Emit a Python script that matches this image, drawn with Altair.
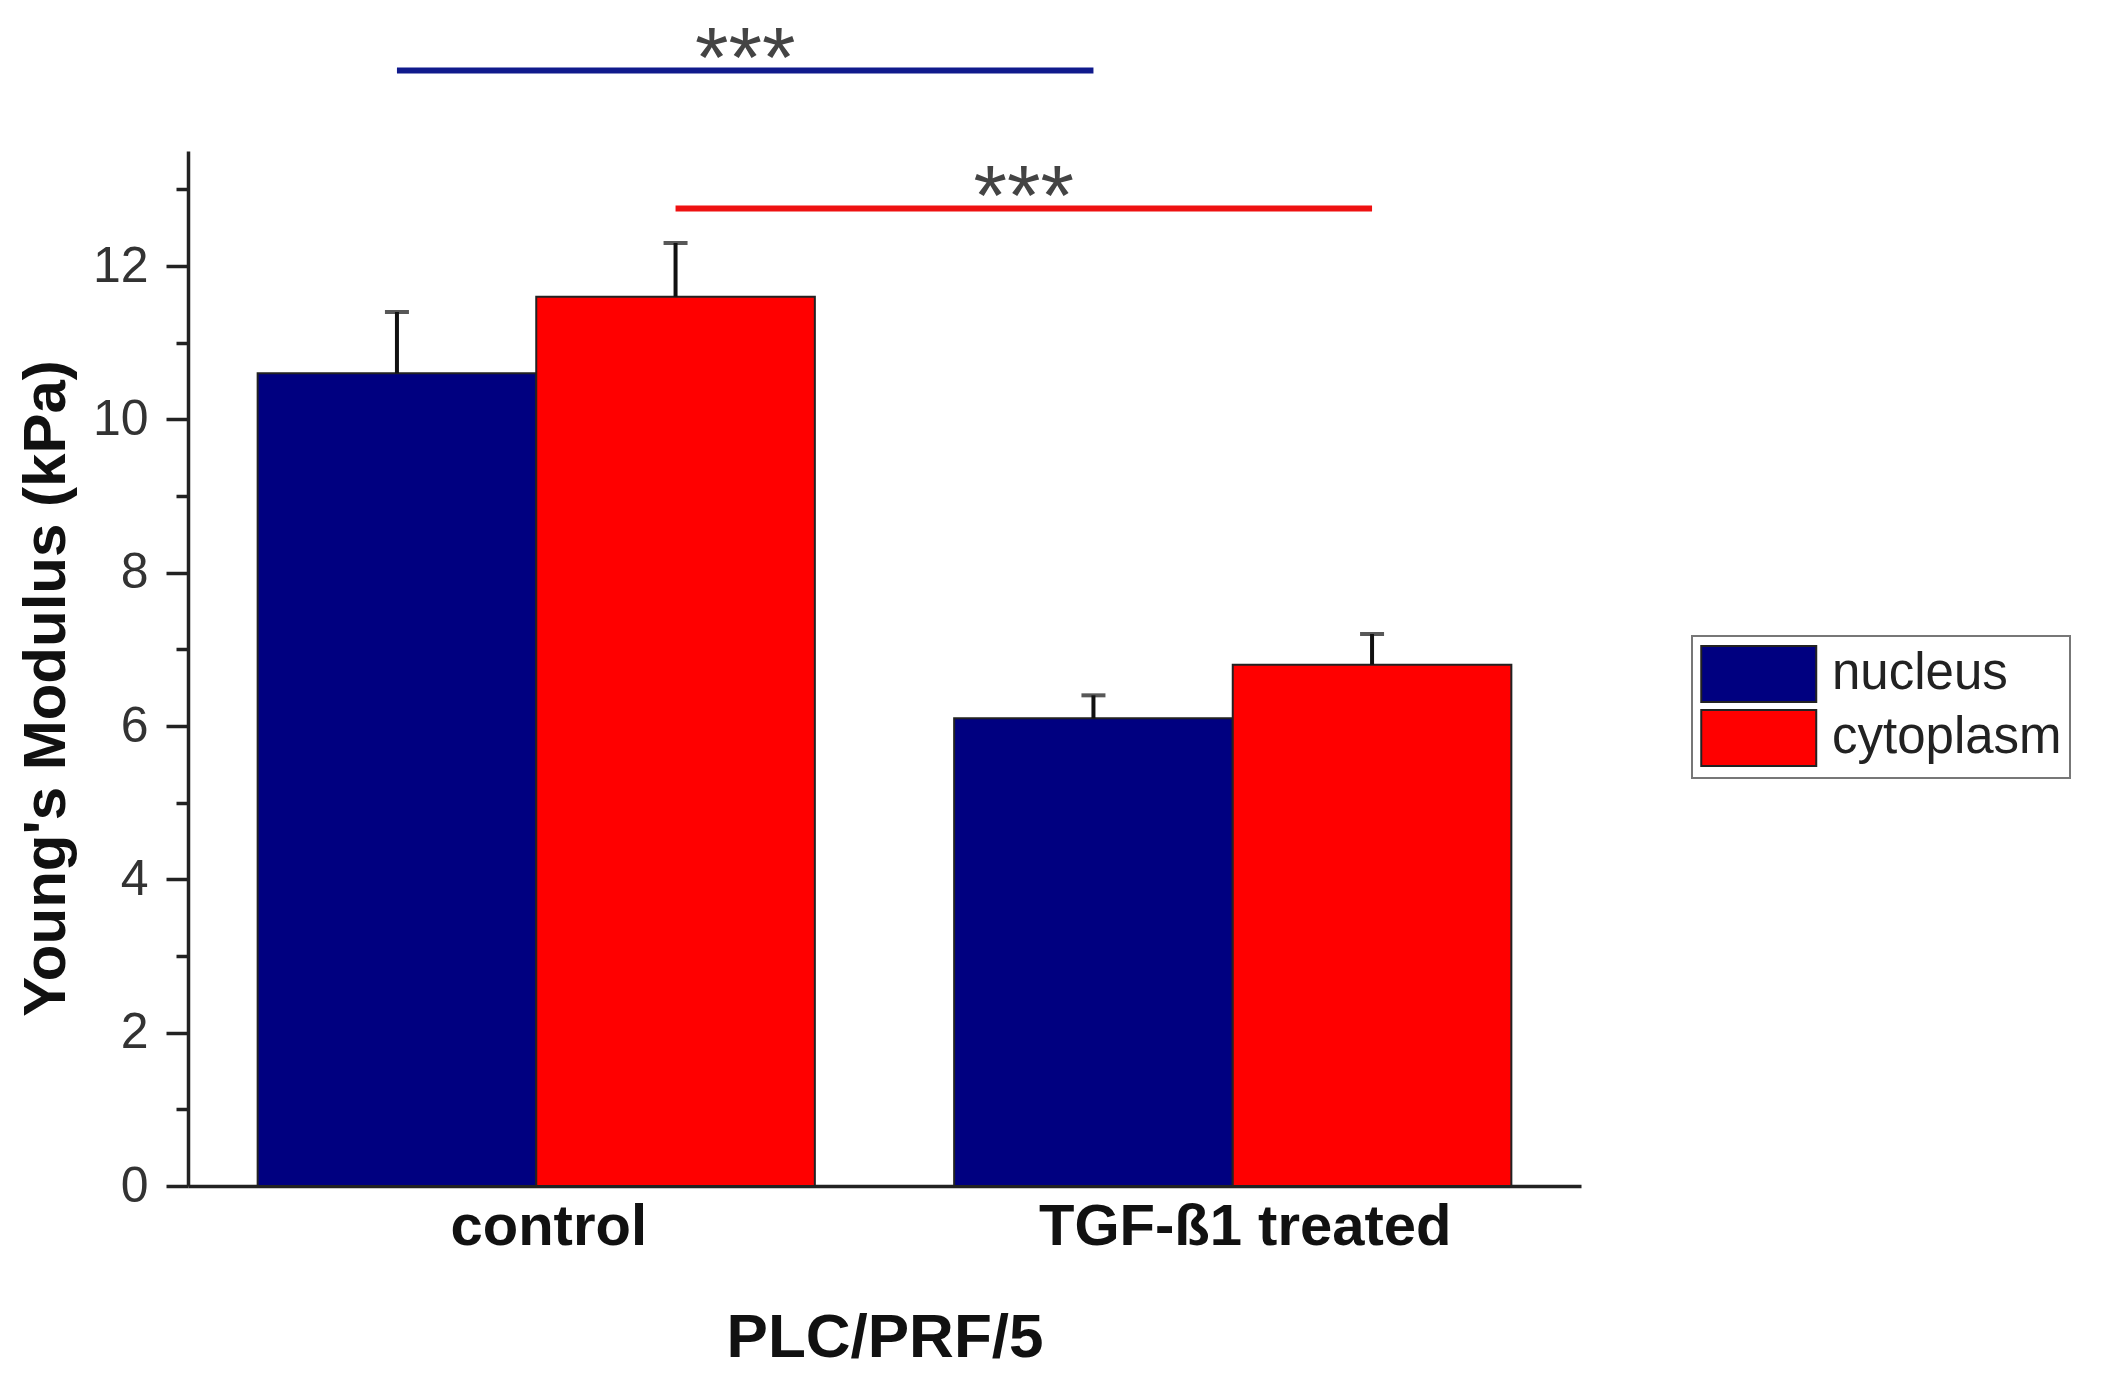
import altair as alt
import pandas as pd
import json

# ---- data ----
groups = ["control", "TGF-ß1 treated"]
series = ["nucleus", "cytoplasm"]
nucleus_mean = [10.6, 6.1]
nucleus_err = [0.8, 0.3]
cytoplasm_mean = [11.6, 6.8]
cytoplasm_err = [0.7, 0.4]

sig_series = ["nucleus", "cytoplasm"]
sig_level = [14.55, 12.75]
sig_label = ["***", "***"]

bar_colors = ["#000080", "#ff0000"]
sig_colors = ["#101a8c", "#ee1111"]

y_ticks = list(range(0, 14))

BAR_W = 0.4  # fraction of a group step taken by one bar
FONT = "Liberation Sans"

means = {"nucleus": nucleus_mean, "cytoplasm": cytoplasm_mean}
errs = {"nucleus": nucleus_err, "cytoplasm": cytoplasm_err}

rows = []
for si, s in enumerate(series):
    for gi, g in enumerate(groups):
        xc = gi + 0.5 + (si - 0.5) * BAR_W
        rows.append(dict(group=g, series=s, mean=means[s][gi],
                         top=means[s][gi] + errs[s][gi],
                         xc=xc, x0=xc - BAR_W / 2, x1=xc + BAR_W / 2))
bars = pd.DataFrame(rows)

sig_rows = []
for k, s in enumerate(sig_series):
    si = series.index(s)
    for gi, g in enumerate(groups):
        sig_rows.append(dict(comp=k, series=s, level=sig_level[k], label=sig_label[k],
                             lc=sig_colors[k], xc=gi + 0.5 + (si - 0.5) * BAR_W))
sig = pd.DataFrame(sig_rows)

label_expr = f"{json.dumps(groups)}[floor(datum.value)]"

x_scale = alt.Scale(domain=[0, len(groups)], nice=False, zero=False)
y_scale = alt.Scale(domain=[0, 13.5], nice=False)

x_axis = alt.Axis(
    values=[i + 0.5 for i in range(len(groups))],
    labelExpr=label_expr, ticks=False, grid=False, labelLimit=2000,
    labelFont=FONT, labelFontSize=58, labelFontWeight="bold", labelColor="#111",
    labelBaseline="alphabetic", labelPadding=58, labelOffset=12,
    domainColor="#222", domainWidth=3.5,
    title="PLC/PRF/5", titleFont=FONT, titleFontSize=62, titleFontWeight="bold",
    titleColor="#111", titleBaseline="alphabetic", titleY=170, titleX=696.5,
)
y_axis = alt.Axis(
    values=y_ticks,
    labelExpr="datum.value % 2 == 0 ? datum.label : ''",
    tickSize={"condition": {"test": "datum.value % 2 == 0", "value": 22}, "value": 12},
    tickWidth=3.5, tickColor="#222", grid=False,
    domainColor="#222", domainWidth=3.5,
    labelFont=FONT, labelFontSize=50, labelColor="#333", labelPadding=18,
    title="Young's Modulus (kPa)", titleFont=FONT, titleFontSize=60,
    titleFontWeight="bold", titleColor="#111", titleBaseline="alphabetic",
    titleX=-124, titleY=537,
)

def X(field):
    return alt.X(field, type="quantitative", scale=x_scale, axis=x_axis, title="PLC/PRF/5")

def Y(field):
    return alt.Y(field, type="quantitative", scale=y_scale, axis=y_axis, title="Young's Modulus (kPa)")

bar_layer = alt.Chart(bars).mark_bar(stroke="#222", strokeWidth=2).encode(
    x=X("x0"), x2="x1", y=Y("mean"), y2=alt.datum(0),
    color=alt.Color("series:N", scale=alt.Scale(domain=series, range=bar_colors),
                    legend=alt.Legend(
                        title=None, orient="none", legendX=1504, legendY=485,
                        symbolType="M-1,-0.97H3V0.97H-1Z", symbolSize=3306,
                        symbolStrokeColor="#222", symbolStrokeWidth=2,
                        labelFont=FONT, labelFontSize=51, labelColor="#222",
                        labelLimit=2000, labelOffset=72, rowPadding=0, padding=8,
                        strokeColor="#777")),
)

err_rule = alt.Chart(bars).mark_rule(color="#111", strokeWidth=4).encode(
    x=X("xc"), y=Y("mean"), y2="top")

err_cap = alt.Chart(bars).mark_tick(color="#111", thickness=4, size=24,
                                    orient="horizontal").encode(
    x=X("xc"), y=Y("top"))

sig_lines = alt.Chart(sig).mark_line(strokeWidth=6, strokeCap="butt").encode(
    x=X("xc"), y=Y("level"), detail="comp:N",
    stroke=alt.Stroke("lc:N", scale=None, legend=None))

sig_text = alt.Chart(sig).transform_aggregate(
    xm="mean(xc)", groupby=["comp", "level", "label"]
).mark_text(font=FONT, fontSize=86, color="#444", baseline="alphabetic", dy=16).encode(
    x=X("xm"), y=Y("level"), text="label:N")

chart = alt.layer(bar_layer, err_rule, err_cap, sig_lines, sig_text).properties(
    width=1393, height=1035,
    autosize=alt.AutoSizeParams(type="none"),
    padding={"left": 180, "top": 143, "right": 510, "bottom": 183},
    background="white",
).configure_view(stroke=None).configure_legend(strokeWidth=2)

chart.save("out.html", embed_options={"renderer": "svg", "actions": False})
